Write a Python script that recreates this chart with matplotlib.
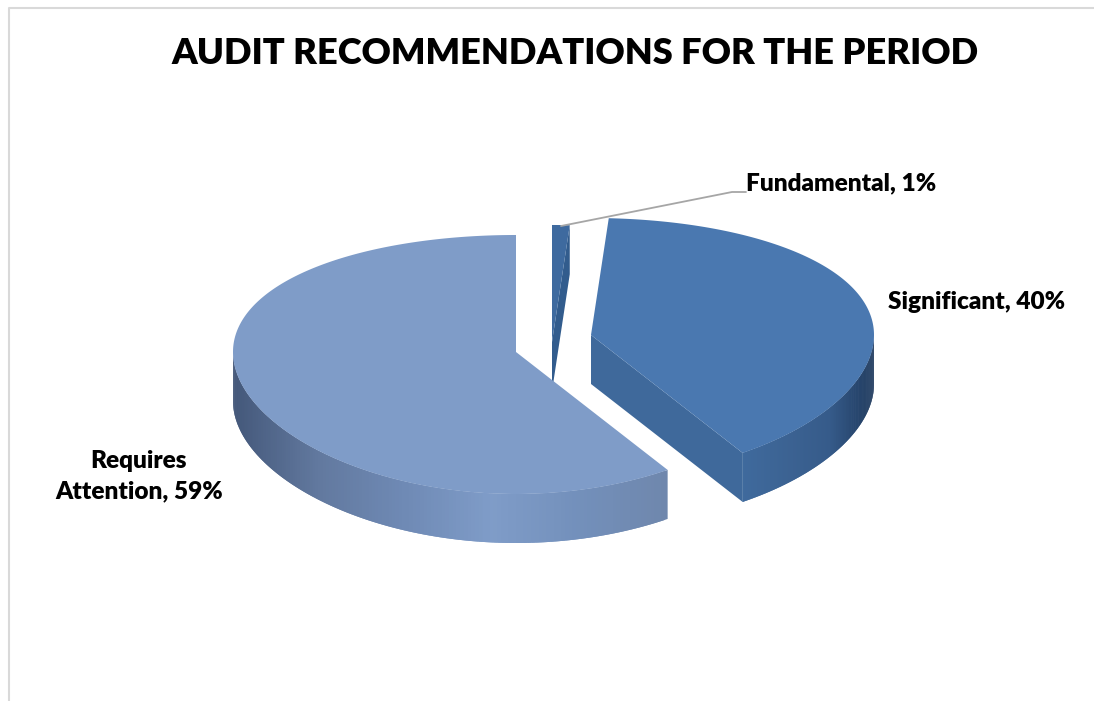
import numpy as np
import matplotlib
matplotlib.use("Agg")
import matplotlib.pyplot as plt
from matplotlib.colors import LinearSegmentedColormap

TITLE = "AUDIT RECOMMENDATIONS FOR THE PERIOD"
categories = ["Fundamental", "Significant", "Requires\nAttention"]
shares = [1, 40, 59]

# Pie geometry in pixels
RX = 283.0
RY = 128.3
PERSPECTIVE = 0.0965
DEPTH = 49.0

apexes = [(552.0, 342.0), (591.0, 335.0), (516.0, 352.0)]
top_colors = ["#3e6a9f", "#4a78b0", "#7f9cc8"]
cut_colors = ["#325c8d", "#3f699b", "#6f88b0"]
wall_stops = [
    ["#325c8d", "#325c8d"],
    ["#3f6a9d", "#3c6393", "#365b8a", "#1f3a5e"],
    ["#44587a", "#62799f", "#6f8ab5", "#7f9cc8", "#7390bb", "#6f87ad"],
]
label_xy = [(746, 183), (888, 302), (139, 476)]
label_align = ["left", "left", "center"]


def project(apex, theta):
    """Project rim angles (clockwise from the back of the pie) to pixels."""
    u, v = np.sin(theta), -np.cos(theta)
    x = apex[0] + RX * u
    y = apex[1] + RY * v / (1 - PERSPECTIVE * v)
    return x, y


def draw_wall(ax, apex, start, end, cmap):
    """Draw the outer rim as shaded bands between two angles."""
    # only the front half of the rim faces the viewer
    lo, hi = max(start, np.pi / 2), min(end, 3 * np.pi / 2)
    if lo >= hi:
        return
    theta = np.linspace(lo, hi, 160)
    x, y = project(apex, theta)
    span = (x - x.min()) / (x.max() - x.min())
    # each band runs on under the next one so no seams show between them
    for i in range(len(theta) - 1):
        j = min(i + 2, len(theta) - 1)
        xs = [x[i], x[i + 1], x[j], x[j], x[i + 1], x[i]]
        ys = [y[i], y[i + 1], y[j], y[j] + DEPTH, y[i + 1] + DEPTH, y[i] + DEPTH]
        ax.fill(xs, ys, color=cmap(span[i]), lw=0, zorder=2)


def draw_slice(ax, index, start, end):
    """Draw one exploded slice: cut face, rim and top surface."""
    apex = apexes[index]
    x_end, y_end = project(apex, np.array(end))

    # the trailing cut face is only visible for slices right of centre
    if end < np.pi:
        ax.fill(
            [apex[0], x_end, x_end, apex[0]],
            [apex[1], y_end, y_end + DEPTH, apex[1] + DEPTH],
            color=cut_colors[index], lw=0, zorder=2,
        )

    cmap = LinearSegmentedColormap.from_list("wall", wall_stops[index])
    draw_wall(ax, apex, start, end, cmap)

    theta = np.linspace(start, end, 300)
    x, y = project(apex, theta)
    ax.fill(
        np.r_[apex[0], x], np.r_[apex[1], y],
        color=top_colors[index], lw=0, zorder=3,
    )


def main() -> None:
    plt.rcParams["font.family"] = ["Lato", "DejaVu Sans"]
    fig = plt.figure(figsize=(10.94, 7.01), dpi=100)
    ax = fig.add_axes([0, 0, 1, 1])
    ax.set_xlim(0, 1094)
    ax.set_ylim(701, 0)
    ax.axis("off")

    # chart area border, open to the right and bottom
    ax.plot([9, 9, 1094], [701, 8, 8], color="#d9d9d9", lw=1.5, zorder=1)

    ax.text(575, 54, TITLE, ha="center", va="center",
            fontsize=26.1, fontweight="heavy", color="black")

    edges = np.r_[0, np.cumsum(shares)] / np.sum(shares) * 2 * np.pi

    # fundamental slice sits behind the others, so it is drawn first
    for i in range(len(shares)):
        draw_slice(ax, i, edges[i], edges[i + 1])

    # leader line to the fundamental label
    ax.plot([561, 732, 746], [226, 192, 192], color="#a6a6a6", lw=1.3,
            zorder=4, solid_capstyle="round")

    for i, name in enumerate(categories):
        ax.text(label_xy[i][0], label_xy[i][1], f"{name}, {shares[i]}%",
                ha=label_align[i], va="center", multialignment="center",
                fontsize=17.6, fontweight="heavy", color="black",
                linespacing=1.45, zorder=5)

    fig.savefig("out.png", dpi=100)


if __name__ == "__main__":
    main()
